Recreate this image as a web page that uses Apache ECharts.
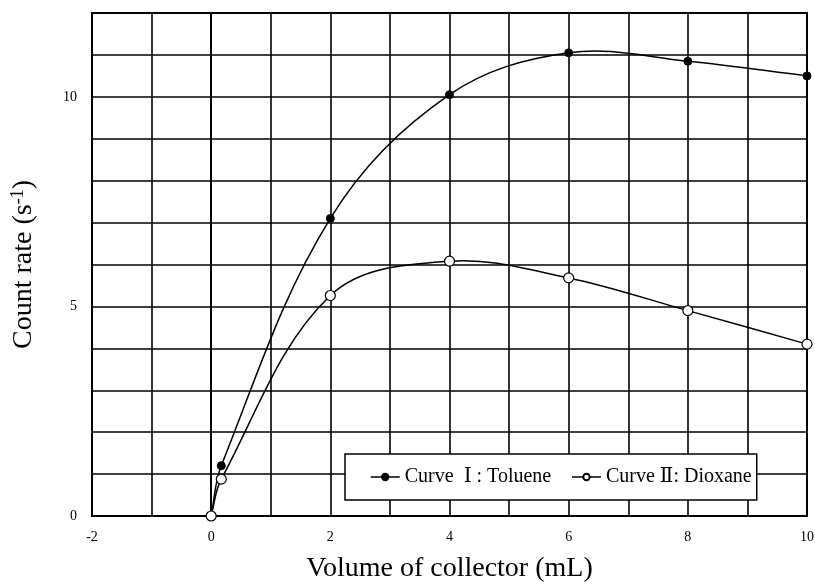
<!DOCTYPE html>
<html>
<head>
<meta charset="utf-8">
<script src="https://cdn.jsdelivr.net/npm/echarts@6/dist/echarts.min.js"></script>
<style>
  html, body { margin: 0; padding: 0; background: #fff; }
  #chart { width: 815px; height: 586px; }
</style>
</head>
<body>
<div id="chart"></div>
<script>
// Collector volume (mL) for each measurement
const volumes = [0, 0.17, 2, 4, 6, 8, 10];
// Count rate (s^-1) for the two scintillation solvents
const toluene = [0, 1.2, 7.1, 10.05, 11.05, 10.85, 10.5];
const dioxane = [0, 0.88, 5.26, 6.08, 5.68, 4.9, 4.1];
const seriesNames = ['Curve  \u2160 : Toluene', 'Curve \u2161: Dioxane'];

const serif = '"Liberation Serif", "DejaVu Serif", "Times New Roman", serif';
const TENSION = 0.36;

function pairs(xs, ys) {
  return xs.map((x, i) => [x, ys[i]]);
}

// Smooth curve through the data points, built as cubic Bezier segments
// in pixel space (distance-weighted cardinal spline, no clamping).
function smoothCurve(xs, ys) {
  return function (params, api) {
    const p = xs.map((x, i) => api.coord([x, ys[i]]));
    const n = p.length;
    const dist = (a, b) => Math.hypot(b[0] - a[0], b[1] - a[1]);
    const cpIn = [], cpOut = [];
    for (let i = 0; i < n; i++) {
      const prev = p[Math.max(i - 1, 0)];
      const next = p[Math.min(i + 1, n - 1)];
      const vx = next[0] - prev[0], vy = next[1] - prev[1];
      const d0 = dist(prev, p[i]), d1 = dist(p[i], next);
      const r = d0 + d1 > 0 ? d1 / (d0 + d1) : 0.5;
      cpOut.push([p[i][0] + vx * TENSION * r, p[i][1] + vy * TENSION * r]);
      cpIn.push([p[i][0] - vx * TENSION * (1 - r), p[i][1] - vy * TENSION * (1 - r)]);
    }
    const children = [];
    for (let i = 0; i < n - 1; i++) {
      children.push({
        type: 'bezierCurve',
        shape: {
          x1: p[i][0], y1: p[i][1],
          cpx1: cpOut[i][0], cpy1: cpOut[i][1],
          cpx2: cpIn[i + 1][0], cpy2: cpIn[i + 1][1],
          x2: p[i + 1][0], y2: p[i + 1][1]
        },
        style: { stroke: '#000', lineWidth: 1.5, fill: null }
      });
    }
    return { type: 'group', children: children };
  };
}

const gridLine = { show: true, lineStyle: { color: '#000', width: 1.6 } };

const chart = echarts.init(document.getElementById('chart'), null, { renderer: 'canvas' });
chart.setOption({
  animation: false,
  backgroundColor: '#fff',
  grid: {
    left: 92, right: 8, top: 13, bottom: 70,
    containLabel: false,
    outerBoundsMode: 'none',
    show: true, borderColor: '#000', borderWidth: 2, backgroundColor: 'transparent'
  },
  xAxis: {
    type: 'value',
    min: -2, max: 10, interval: 2,
    name: 'Volume of collector (mL)',
    nameLocation: 'middle',
    nameGap: 39,
    nameMoveOverlap: false,
    nameTextStyle: { fontFamily: serif, fontSize: 28, color: '#000' },
    axisLine: { show: true, lineStyle: { color: '#000', width: 2 } },
    axisTick: { show: false },
    axisLabel: { fontFamily: serif, fontSize: 14, color: '#000', margin: 14 },
    splitLine: gridLine,
    minorTick: { show: false, splitNumber: 2 },
    minorSplitLine: gridLine
  },
  yAxis: {
    type: 'value',
    min: 0, max: 12, interval: 5,
    name: '{t|Count rate (s}{s|-1}{t|)}',
    nameLocation: 'middle',
    nameGap: 53,
    nameMoveOverlap: false,
    nameTextStyle: {
      rich: {
        t: { fontFamily: serif, fontSize: 28, color: '#000', lineHeight: 30 },
        s: { fontFamily: serif, fontSize: 18, color: '#000', verticalAlign: 'top', lineHeight: 30, padding: [0, 0, 10, 0] }
      }
    },
    axisLine: { show: true, lineStyle: { color: '#000', width: 2 } },
    axisTick: { show: false },
    axisLabel: { fontFamily: serif, fontSize: 14, color: '#000', margin: 15, showMaxLabel: false },
    splitLine: gridLine,
    minorTick: { show: false, splitNumber: 5 },
    minorSplitLine: gridLine
  },
  legend: {
    left: 345, top: 454,
    orient: 'horizontal',
    backgroundColor: '#fff',
    borderColor: '#000', borderWidth: 1.5,
    padding: [13, 5, 13, 25],
    itemGap: 20,
    itemWidth: 29, itemHeight: 8,
    lineStyle: { color: '#000', width: 1.5, opacity: 1 },
    textStyle: { fontFamily: serif, fontSize: 20, color: '#000' },
    data: seriesNames
  },
  series: [
    {
      type: 'custom',
      name: 'toluene-curve',
      coordinateSystem: 'cartesian2d',
      silent: true,
      data: [[0, 0]],
      renderItem: smoothCurve(volumes, toluene),
      z: 2
    },
    {
      type: 'custom',
      name: 'dioxane-curve',
      coordinateSystem: 'cartesian2d',
      silent: true,
      data: [[0, 0]],
      renderItem: smoothCurve(volumes, dioxane),
      z: 2
    },
    {
      name: seriesNames[0],
      type: 'line',
      data: pairs(volumes, toluene),
      symbol: 'circle',
      symbolSize: 8,
      itemStyle: { color: '#000', borderColor: '#000', borderWidth: 1 },
      lineStyle: { color: '#000', width: 1.5, opacity: 0 },
      z: 3
    },
    {
      name: seriesNames[1],
      type: 'line',
      data: pairs(volumes, dioxane),
      symbol: 'circle',
      symbolSize: 10,
      showAllSymbol: true,
      itemStyle: { color: '#fff', borderColor: '#000', borderWidth: 1.2 },
      lineStyle: { color: '#000', width: 1.5, opacity: 0 },
      z: 4
    }
  ]
});
</script>
</body>
</html>
